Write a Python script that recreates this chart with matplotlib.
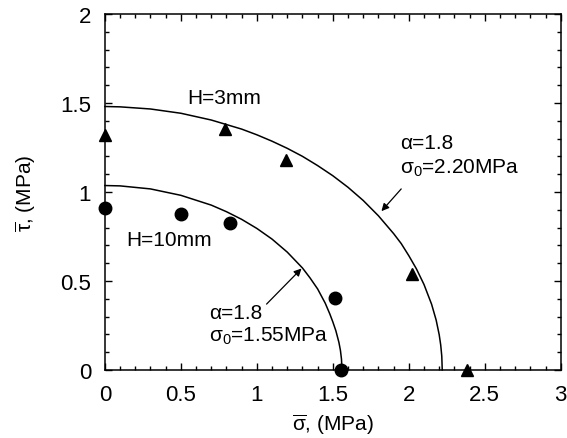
import matplotlib
matplotlib.use('Agg')
import matplotlib.pyplot as plt
from matplotlib.ticker import MultipleLocator

plt.rcParams['font.family'] = ['Liberation Sans', 'DejaVu Sans']
plt.rcParams['mathtext.fontset'] = 'custom'
plt.rcParams['mathtext.rm'] = 'Liberation Sans'
plt.rcParams['mathtext.it'] = 'Liberation Sans'
plt.rcParams['mathtext.bf'] = 'Liberation Sans:bold'

# measured points, H=3mm (triangles) and H=10mm (circles)
sig_3mm = [0.0, 0.79, 1.195, 2.018, 2.38]
tau_3mm = [1.318, 1.354, 1.182, 0.538, 0.0]
sig_10mm = [0.0, 0.504, 0.822, 1.513, 1.557]
tau_10mm = [0.91, 0.874, 0.823, 0.407, 0.0]

# fitted criterion curves
curve_3mm_sig = [0.0, 0.1, 0.3, 0.5, 0.7, 0.9, 1.0, 1.1, 1.2, 1.3, 1.4, 1.5, 1.6, 1.7,
                 1.8, 1.9, 1.95, 2.0, 2.05, 2.1, 2.15, 2.18, 2.2, 2.21, 2.217, 2.22]
curve_3mm_tau = [1.48, 1.478, 1.466, 1.442, 1.404, 1.353, 1.321, 1.285, 1.245, 1.2, 1.148,
                 1.091, 1.026, 0.952, 0.866, 0.766, 0.71, 0.642, 0.568, 0.48, 0.369, 0.28,
                 0.198, 0.14, 0.077, 0.0]
curve_10mm_sig = [0.0, 0.1, 0.3, 0.5, 0.7, 0.8, 0.9, 1.0, 1.1, 1.2, 1.3, 1.35, 1.4, 1.45,
                  1.48, 1.5, 1.52, 1.54, 1.55, 1.557, 1.56]
curve_10mm_tau = [1.036, 1.034, 1.017, 0.981, 0.926, 0.889, 0.846, 0.795, 0.735, 0.662,
                  0.573, 0.517, 0.455, 0.375, 0.315, 0.27, 0.22, 0.155, 0.11, 0.06, 0.0]

fig = plt.figure(figsize=(5.67, 4.39), dpi=100)
ax = fig.add_axes([0.185, 0.155, 0.804, 0.811])

ax.plot(curve_3mm_sig, curve_3mm_tau, color='black', lw=1.1, clip_on=False)
ax.plot(curve_10mm_sig, curve_10mm_tau, color='black', lw=1.1, clip_on=False)
ax.plot(sig_3mm, tau_3mm, '^', color='black', ms=9, clip_on=False, zorder=5)
ax.plot(sig_10mm, tau_10mm, 'o', color='black', ms=9, clip_on=False, zorder=5)

fs = 15
ax.text(0.54, 1.53, 'H=3mm', fontsize=fs, va='center')
ax.text(1.94, 1.277, '\u03b1=1.8', fontsize=fs, va='center')
ax.text(1.94, 1.14, r'$\mathrm{\sigma_0}$=2.20MPa', fontsize=fs, va='center')
ax.annotate('', xy=(1.82, 0.892), xytext=(1.95, 1.017),
            arrowprops=dict(arrowstyle='-|>', color='black', lw=0.9, mutation_scale=11, shrinkA=0, shrinkB=0))

ax.text(0.138, 0.734, 'H=10mm', fontsize=fs, va='center')
ax.text(0.686, 0.323, '\u03b1=1.8', fontsize=fs, va='center')
ax.text(0.686, 0.192, r'$\mathrm{\sigma_0}$=1.55MPa', fontsize=fs, va='center')
ax.annotate('', xy=(1.294, 0.57), xytext=(1.064, 0.37),
            arrowprops=dict(arrowstyle='-|>', color='black', lw=0.9, mutation_scale=11, shrinkA=0, shrinkB=0))

ax.set_xlim(0, 3)
ax.set_ylim(0, 2)
ax.xaxis.set_minor_locator(MultipleLocator(0.1))
ax.yaxis.set_minor_locator(MultipleLocator(0.1))
ax.set_xticks([0, 0.5, 1, 1.5, 2, 2.5, 3])
ax.set_xticklabels(['0', '0.5', '1', '1.5', '2', '2.5', '3'])
ax.set_yticks([0, 0.5, 1, 1.5, 2])
ax.set_yticklabels(['0', '0.5', '1', '1.5', '2'])
ax.tick_params(which='both', direction='in', top=True, right=True, labelsize=16, width=1.0)
ax.tick_params(which='major', length=5, pad=10)
ax.tick_params(which='minor', length=3)
for s in ax.spines.values():
    s.set_linewidth(1.1)

ax.set_xlabel(r'$\overline{\mathrm{\sigma}}$, (MPa)', fontsize=fs, labelpad=5)
ax.set_ylabel(r'$\overline{\mathrm{\tau}}$, (MPa)', fontsize=fs, labelpad=16)

fig.savefig('out.png', dpi=100)
